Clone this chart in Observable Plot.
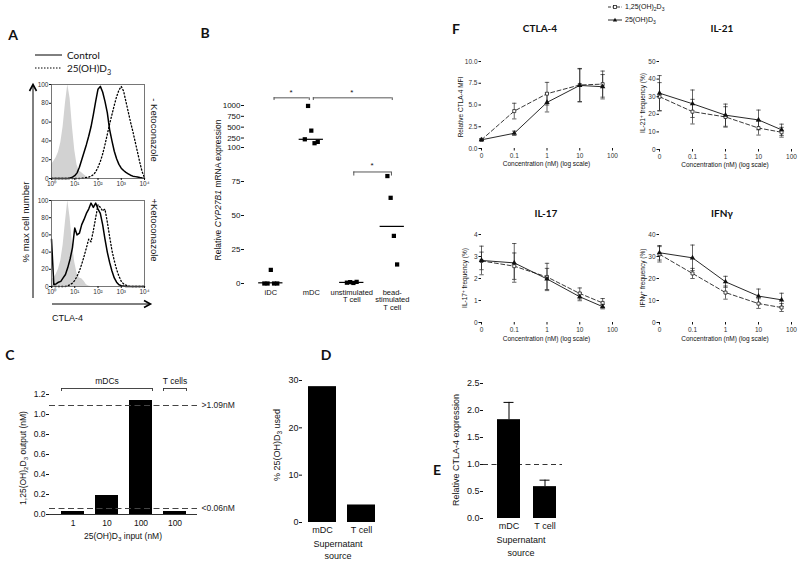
<!DOCTYPE html>
<html><head><meta charset="utf-8">
<script src="https://cdn.jsdelivr.net/npm/d3@7"></script>
<script src="https://cdn.jsdelivr.net/npm/@observablehq/plot@0.6"></script>
<style>
body{margin:0;background:#fff;}
#fig{position:relative;width:800px;height:563px;overflow:hidden;background:#fff;color:#111;}
</style></head><body><div id="fig"></div>
<script>
// ---------------- DATA ----------------
// Panel A: histograms, x = log10(CTLA-4 intensity), y = % max cell number
const histExp = [0,0.1,0.2,0.3,0.4,0.5,0.6,0.7,0.8,0.9,1,1.1,1.2,1.3,1.4,1.5,1.6,1.7,1.8,1.9,2,2.1,2.2,2.3,2.4,2.5,2.6,2.7,2.8,2.9,3,3.1,3.2,3.3,3.4,3.5,3.6,3.7,3.8,3.9,4];
const isoTop  = [15,18,22,28,38,55,80,100,85,55,30,14,8,6,4,2,0.5,0,0,0,0,0,0,0,0,0,0,0,0,0,0,0,0,0,0,0,0,0,0,0,0];
const ctrlTop = [0,0,0,0,0,0,0,0,0.5,1.5,3,6,12,20,28,36,45,55,68,82,95,98,92,82,70,52,40,29,21,15,11,8.5,6.5,5,3.5,2.5,2,1.5,1,0.6,0.3];
const vitTop  = [0,0,0,0,0,0,0,0,0,0,0,0,0,0.3,0.6,1,1.5,2.5,4,7,12,18,26,36,47,58,68,78,87,94,98,93,82,71,60,50,39,28,17,7,1];
const isoBot  = [8,10,14,20,30,48,75,100,80,50,28,15,10,9,6,2,0.5,0,0,0,0,0,0,0,0,0,0,0,0,0,0,0,0,0,0,0,0,0,0,0,0];
const ctrlBot = [55,2,3,5,6,10,14,22,32,45,68,60,62,72,78,85,90,97,92,97,90,85,72,55,40,28,18,10,5,2,1,0.5,0,0,0,0,0,0,0,0,0];
const vitBot  = [0,0,0,0,0,0,0,1,2,4,7,12,18,26,35,45,55,52,65,80,95,92,88,90,75,58,42,30,20,12,6,3,1.5,0.5,0,0,0,0,0,0,0];
const histTicksY = [0,20,40,60,80,100];
const histTicksX = [0,1,2,3,4];

// Panel B: CYP27B1 expression
const bCategories = ["iDC","mDC","unstimulated\nT cell","bead-\nstimulated\nT cell"];
const bIDC    = [0,0,10,0,0];
const bMDC    = [220,990,420,130,160];
const bUnstim = [0.6,1.0,0.4,1.2];
const bBead   = [79,63,35,14];
const bCenter = [0.5,220,0.8,42];
const bTicksLow = [0,25,50,75,100];
const bTicksHigh = [250,500,750,1000];

// Panel C: 1,25(OH)2D3 output
const cLabels = ["1","10","100","100"];
const cValues = [0.03,0.19,1.14,0.03];
const cLimits = [1.09,0.06];
const cLimitLabels = [">1.09nM","<0.06nM"];
const cTicks = [0,0.2,0.4,0.6,0.8,1.0,1.2];

// Panel D
const dLabels = ["mDC","T cell"];
const dValues = [28.7,3.7];
const dTicks = [0,10,20,30];

// Panel E
const eLabels = ["mDC","T cell"];
const eValues = [1.83,0.59];
const eErrors = [0.32,0.12];
const eTicks = [0,0.5,1.0,1.5,2.0,2.5];

// Panel F: concentrations (0 = control, drawn at the "0" slot of the log axis)
const concentrations = [0,0.1,1,10,50];
const concTicks = [0,0.1,1,10,100];
const ctla4_125 = [1.0,4.3,6.3,7.3,7.4];   const ctla4_125_err = [0.1,0.9,1.3,1.9,1.5];
const ctla4_25  = [1.0,1.75,5.3,7.25,7.1]; const ctla4_25_err  = [0.1,0.25,1.1,1.9,1.4];
const il21_125  = [30,21.5,18.5,12.2,9.8]; const il21_125_err  = [8,7,5.8,4,2.8];
const il21_25   = [32,26,19.5,16.8,11.2];  const il21_25_err   = [10,7.8,6.3,5.6,3.2];
const il17_125  = [2.8,2.56,2.07,1.32,0.89]; const il17_125_err = [0.4,0.6,0.62,0.25,0.2];
const il17_25   = [2.82,2.71,1.98,1.17,0.72]; const il17_25_err = [0.65,0.88,0.48,0.18,0.1];
const ifng_125  = [31,22.3,13.6,8.6,6.8];  const ifng_125_err  = [3.5,2.3,3,2.2,1.8];
const ifng_25   = [31.7,29.4,18.5,12,10.3]; const ifng_25_err  = [3.3,5.8,2.5,3.2,3];

// ---------------- HELPERS ----------------
const fig = document.getElementById("fig");
const FONT = '"Liberation Sans", Arial, sans-serif';
const BOLD = 'Lato, "Open Sans", sans-serif';
const SUB = s => `<span style="font-size:72%;position:relative;top:0.35em">${s}</span>`;
const SUP = s => `<span style="font-size:72%;position:relative;top:-0.45em">${s}</span>`;
const SUPCH = ["\u2070","\u00b9","\u00b2","\u00b3","\u2074"];

function addText(html, x, y, o = {}) {
  const d = document.createElement("div");
  d.innerHTML = html;
  Object.assign(d.style, {position:"absolute", left:x+"px", top:y+"px", whiteSpace:"nowrap",
    fontFamily:o.font||FONT, fontSize:(o.size||8)+"px", lineHeight:"1", color:o.color||"#111",
    fontWeight:o.bold?"bold":"normal", fontStyle:"normal"});
  const ax = o.anchor === "start" ? "0" : o.anchor === "end" ? "-100%" : "-50%";
  d.style.transform = `translate(${ax},-50%)` + (o.rotate ? ` rotate(${o.rotate}deg)` : "");
  fig.appendChild(d);
}

function mkPlot(frame, margin, opts) {
  const [x0,y0,x1,y1] = frame;
  const m = Object.assign({top:10,right:10,bottom:20,left:30}, margin);
  const p = Plot.plot({
    width: x1-x0+m.left+m.right, height: y1-y0+m.top+m.bottom,
    marginLeft:m.left, marginRight:m.right, marginTop:m.top, marginBottom:m.bottom,
    style:{fontFamily:FONT, fontSize:"8px", background:"transparent", overflow:"visible", color:"#111"},
    ...opts
  });
  Object.assign(p.style, {position:"absolute", left:(x0-m.left)+"px", top:(y0-m.top)+"px"});
  fig.appendChild(p);
  return p;
}

// ---------------- PANEL A ----------------
function hist(frame, iso, ctrl, vit) {
  const rows = arr => histExp.map((e,i) => ({e, v:arr[i]}));
  mkPlot(frame, {left:18, right:4, top:4, bottom:14}, {
    x:{domain:[0,4]}, y:{domain:[0,100]},
    marks:[
      Plot.areaY(rows(iso), {x:"e", y:"v", fill:"#d2d2d2"}),
      Plot.lineY(rows(ctrl), {x:"e", y:"v", stroke:"#000", strokeWidth:1.5}),
      Plot.lineY(rows(vit), {x:"e", y:"v", stroke:"#000", strokeWidth:1.3, strokeDasharray:"1.2,2.2"}),
      Plot.frame({stroke:"#555", strokeWidth:0.8}),
      Plot.axisY({ticks:histTicksY, tickSize:2, tickPadding:1, fontSize:6.5, label:null, fill:"#333"}),
      Plot.axisX({ticks:histTicksX, tickFormat:d => "10"+SUPCH[d], tickSize:2, tickPadding:1, fontSize:6.5, label:null, fill:"#333"})
    ]
  });
}
hist([51,84,144,178], isoTop, ctrlTop, vitTop);
hist([51,200,144,286], isoBot, ctrlBot, vitBot);

addText("A", 13, 35, {font:BOLD, bold:true, size:14});
addText("Control", 67, 55, {font:BOLD, size:10, anchor:"start"});
addText("25(OH)D"+SUB("3"), 67, 68, {font:BOLD, size:10, anchor:"start"});
addText("% max cell number", 26, 222, {size:9.5, rotate:-90});
addText("CTLA-4", 52, 318, {size:9, anchor:"start"});
addText("- Ketoconazole", 154, 130, {size:9.5, rotate:90});
addText("+Ketoconazole", 154, 230, {size:9.5, rotate:90});

// ---------------- PANEL B ----------------
const bGroups = [bIDC, bMDC, bUnstim, bBead];
const bRows = [];
bGroups.forEach((arr, ci) => arr.forEach((v, j) => bRows.push({x: ci + (j - (arr.length-1)/2) * 0.08, v})));
const bCenters = bCenter.map((v, i) => ({i, v}));
const bX = {domain:[-0.65,3.5]};
// upper segment (broken axis)
mkPlot([244,105,412,144], {left:26, right:4, top:20, bottom:2}, {
  x:bX, y:{domain:[100,1000]},
  marks:[
    Plot.dot(bRows.filter(d => d.v > 100), {x:"x", y:"v", symbol:"square", fill:"#000", r:2.4}),
    Plot.ruleY(bCenters.filter(d => d.v > 100), {y:"v", x1:d => d.i-0.3, x2:d => d.i+0.3, stroke:"#000", strokeWidth:1.2}),
    Plot.ruleY([{a:0.08, b:0.95, y:1177}, {a:1.05, b:3, y:1177}], {y:"y", x1:"a", x2:"b", stroke:"#444", strokeWidth:0.9}),
    Plot.ruleX([0.08,0.95,1.05,3], {x:d => d, y1:1115, y2:1177, stroke:"#444", strokeWidth:0.9}),
    Plot.text([0.5,2], {x:d => d, y:1310, text:() => "*", fontSize:8, fill:"#111"}),
    Plot.axisY({ticks:bTicksHigh, tickFormat:"d", tickSize:3, tickPadding:1, fontSize:8, line:true, label:null, fill:"#111"}),
    Plot.axisX({ticks:[], label:null, tickSize:0})
  ]
});
// lower segment
mkPlot([244,147,412,283], {left:26, right:4, top:4, bottom:34}, {
  x:bX, y:{domain:[0,100]},
  marks:[
    Plot.ruleY(bCenters.filter(d => d.v <= 100), {y:"v", x1:d => d.i-0.3, x2:d => d.i+0.3, stroke:"#000", strokeWidth:1.2}),
    Plot.dot(bRows.filter(d => d.v <= 100), {x:"x", y:"v", symbol:"square", fill:"#000", r:2.4}),
    Plot.ruleY([{a:2.05, b:2.98, y:82}], {y:"y", x1:"a", x2:"b", stroke:"#444", strokeWidth:0.9}),
    Plot.ruleX([2.05,2.98], {x:d => d, y1:79, y2:82, stroke:"#444", strokeWidth:0.9}),
    Plot.text([2.5], {x:d => d, y:87, text:() => "*", fontSize:8, fill:"#111"}),
    Plot.axisY({ticks:bTicksLow, tickFormat:"d", tickSize:3, tickPadding:1, fontSize:8, line:true, label:null, fill:"#111"}),
    Plot.axisX({ticks:[0,1,2,3], tickFormat:i => bCategories[i], tickSize:0, tickPadding:6, fontSize:7.5, line:true, label:null, fill:"#111"})
  ]
});
addText("B", 205, 33, {font:BOLD, bold:true, size:14});
addText("Relative <i>CYP27B1</i> mRNA expression", 218, 190, {size:8.5, rotate:-90});

// ---------------- PANEL C ----------------
const cRows = cValues.map((v, i) => ({i, v}));
const cBw = 23;
mkPlot([49,394,197,514], {left:24, right:40, top:30, bottom:14}, {
  x:{type:"band", domain:[0,1,2,3], paddingInner:0.33, paddingOuter:0.32},
  y:{domain:[0,1.2]},
  marks:[
    Plot.barY(cRows, {x:"i", y:"v", fill:"#000"}),
    Plot.ruleY(cLimits, {stroke:"#444", strokeWidth:1.2, strokeDasharray:"6,3.5"}),
    Plot.text(cLimits.map((v, k) => ({v, t:cLimitLabels[k]})), {y:"v", text:"t", frameAnchor:"right", textAnchor:"start", dx:4, fontSize:8.5, fill:"#222"}),
    Plot.ruleY([{a:0, b:2, y:1.26}, {a:3, b:3, y:1.26}], {y:"y", x1:"a", x2:"b", stroke:"#333", strokeWidth:0.9}),
    Plot.ruleX([0,3], {x:d => d, y1:1.23, y2:1.26, dx:-cBw/2, stroke:"#333", strokeWidth:0.9}),
    Plot.ruleX([2,3], {x:d => d, y1:1.23, y2:1.26, dx:cBw/2, stroke:"#333", strokeWidth:0.9}),
    Plot.text([{x:1, t:"mDCs"}, {x:3, t:"T cells"}], {x:"x", y:1.33, text:"t", fontSize:8.5, fill:"#111"}),
    Plot.ruleY([0], {stroke:"#333"}),
    Plot.axisY({ticks:cTicks, tickFormat:".1f", tickSize:3, tickPadding:1, fontSize:8.5, line:true, label:null, fill:"#111"}),
    Plot.axisX({tickFormat:i => cLabels[i], tickSize:0, tickPadding:5, fontSize:8.5, label:null, fill:"#111"})
  ]
});
addText("C", 10, 355, {font:BOLD, bold:true, size:14});
addText("1,25(OH)"+SUB("2")+"D"+SUB("3")+" output (nM)", 23, 458, {size:8.5, rotate:-90});
addText("25(OH)D"+SUB("3")+" input (nM)", 123, 536, {size:8.5});

// ---------------- PANEL D ----------------
mkPlot([302,380,387,522], {left:20, right:4, top:6, bottom:14}, {
  x:{type:"band", domain:dLabels, paddingInner:0.29, paddingOuter:0.22, align:0.35},
  y:{domain:[0,30]},
  marks:[
    Plot.barY(dLabels.map((k, i) => ({k, v:dValues[i]})), {x:"k", y:"v", fill:"#000"}),
    Plot.axisY({ticks:dTicks, tickSize:3, tickPadding:1, fontSize:9, line:true, label:null, fill:"#111"}),
    Plot.axisX({tickSize:0, tickPadding:4, fontSize:9, line:true, label:null, fill:"#111"})
  ]
});
addText("D", 326, 355, {font:BOLD, bold:true, size:14});
addText("% 25(OH)D"+SUB("3")+" used", 277, 445, {size:9, rotate:-90});
addText("Supernatant", 338, 544, {size:9});
addText("source", 338, 556, {size:9});

// ---------------- PANEL E ----------------
const eRows = eLabels.map((k, i) => ({k, v:eValues[i], e:eErrors[i]}));
mkPlot([483,383,562,518], {left:22, right:6, top:6, bottom:14}, {
  x:{type:"band", domain:eLabels, paddingInner:0.36, paddingOuter:0.26, align:0.7},
  y:{domain:[0,2.5]},
  marks:[
    Plot.ruleY([1], {stroke:"#333", strokeWidth:1.1, strokeDasharray:"5,3.5"}),
    Plot.barY(eRows, {x:"k", y:"v", fill:"#000"}),
    Plot.ruleX(eRows, {x:"k", y1:"v", y2:d => d.v+d.e, stroke:"#000", strokeWidth:1}),
    Plot.tickY(eRows, {x:"k", y:d => d.v+d.e, insetLeft:6.5, insetRight:6.5, stroke:"#000", strokeWidth:1}),
    Plot.axisY({ticks:eTicks, tickFormat:".1f", tickSize:3, tickPadding:1, fontSize:9, line:true, label:null, fill:"#111"}),
    Plot.axisX({tickSize:0, tickPadding:4, fontSize:9, line:true, label:null, fill:"#111"})
  ]
});
addText("E", 437, 470, {font:BOLD, bold:true, size:14});
addText("Relative CTLA-4 expression", 456, 450, {size:9, rotate:-90});
addText("Supernatant", 521, 540, {size:9});
addText("source", 521, 553, {size:9});

// ---------------- PANEL F ----------------
const capSymbol = {draw(ctx, size) { const r = Math.sqrt(size/Math.PI); ctx.moveTo(-r,0); ctx.lineTo(r,0); }};
const xPos = c => c === 0 ? 0.01 : c;
function errMarks(rows) {
  return [
    Plot.ruleX(rows, {x:"c", y1:d => d.m-d.e, y2:d => d.m+d.e, stroke:"#222", strokeWidth:0.7}),
    Plot.dot(rows, {x:"c", y:d => d.m+d.e, symbol:capSymbol, r:2.2, stroke:"#222", strokeWidth:0.7, fill:"none"}),
    Plot.dot(rows, {x:"c", y:d => d.m-d.e, symbol:capSymbol, r:2.2, stroke:"#222", strokeWidth:0.7, fill:"none"})
  ];
}
function fPanel(frame, yDomain, yTicks, yFmt, m125, e125, m25, e25) {
  const rA = concentrations.map((c, i) => ({c:xPos(c), m:m125[i], e:e125[i]}));
  const rB = concentrations.map((c, i) => ({c:xPos(c), m:m25[i], e:e25[i]}));
  mkPlot(frame, {left:20, right:8, top:4, bottom:12}, {
    x:{type:"log", domain:[0.01,100]}, y:{domain:yDomain},
    marks:[
      Plot.line(rA, {x:"c", y:"m", stroke:"#222", strokeWidth:0.9, strokeDasharray:"4,2.5"}),
      Plot.line(rB, {x:"c", y:"m", stroke:"#111", strokeWidth:0.9}),
      ...errMarks(rA), ...errMarks(rB),
      Plot.dot(rA, {x:"c", y:"m", symbol:"square", r:1.7, fill:"#fff", stroke:"#222", strokeWidth:0.8}),
      Plot.dot(rB, {x:"c", y:"m", symbol:"triangle", r:2, fill:"#111"}),
      Plot.axisY({ticks:yTicks, tickFormat:yFmt, tickSize:2.5, tickPadding:1.5, fontSize:6.5, line:true, label:null, fill:"#333"}),
      Plot.axisX({ticks:concTicks.map(xPos), tickFormat:d => d === 0.01 ? "0" : String(d), tickSize:2.5, tickPadding:2, fontSize:6.5, line:true, label:null, fill:"#333"})
    ]
  });
}
fPanel([481,61,612,148], [0,10], [0,2.5,5,7.5,10], ".1f", ctla4_125, ctla4_125_err, ctla4_25, ctla4_25_err);
fPanel([659,61,791,149], [0,50], [0,10,20,30,40,50], "d", il21_125, il21_125_err, il21_25, il21_25_err);
fPanel([481,234,612,322], [0,4], [0,1,2,3,4], "d", il17_125, il17_125_err, il17_25, il17_25_err);
fPanel([659,234,791,322], [0,40], [0,10,20,30,40], "d", ifng_125, ifng_125_err, ifng_25, ifng_25_err);

addText("F", 456, 29, {font:BOLD, bold:true, size:14});
addText("CTLA-4", 540, 28, {font:BOLD, bold:true, size:10});
addText("IL-21", 722, 28, {font:BOLD, bold:true, size:10});
addText("IL-17", 546, 213, {font:BOLD, bold:true, size:10});
addText("IFN\u03b3", 722, 213, {font:BOLD, bold:true, size:10});
addText("Relative CTLA-4 MFI", 461, 107, {size:6.5, rotate:-90});
addText("IL-21"+SUP("+")+" frequency (%)", 643, 103, {size:6.5, rotate:-90});
addText("IL-17"+SUP("+")+" frequency (%)", 465, 278, {size:6.5, rotate:-90});
addText("IFN\u03b3"+SUP("+")+" frequency (%)", 643, 278, {size:6.5, rotate:-90});
["546.5,164","725,165","546.5,339","725,339"].forEach(s => {
  const [x, y] = s.split(",").map(Number);
  addText("Concentration (nM) (log scale)", x, y, {size:6.5});
});
addText("1,25(OH)"+SUB("2")+"D"+SUB("3"), 625, 7, {size:7, anchor:"start"});
addText("25(OH)D"+SUB("3"), 625, 20, {size:7, anchor:"start"});

// ---------------- OVERLAY (arrows, legend keys) ----------------
const ov = d3.select(fig).append("svg").attr("width",800).attr("height",563)
  .style("position","absolute").style("left","0").style("top","0").style("pointer-events","none");
ov.append("line").attr("x1",35).attr("x2",62).attr("y1",55).attr("y2",55).attr("stroke","#000").attr("stroke-width",1);
ov.append("line").attr("x1",35).attr("x2",62).attr("y1",68).attr("y2",68).attr("stroke","#000").attr("stroke-width",1).attr("stroke-dasharray","1.5,1.5");
ov.append("line").attr("x1",33).attr("x2",33).attr("y1",298).attr("y2",85).attr("stroke","#000").attr("stroke-width",1);
ov.append("path").attr("d","M29.5,91 L33,84.5 L36.5,91").attr("fill","none").attr("stroke","#000").attr("stroke-width",1.6);
ov.append("line").attr("x1",52).attr("x2",150).attr("y1",304).attr("y2",304).attr("stroke","#000").attr("stroke-width",1);
ov.append("path").attr("d","M144,300.5 L150.5,304 L144,307.5").attr("fill","none").attr("stroke","#000").attr("stroke-width",1.6);
ov.append("line").attr("x1",608).attr("x2",622).attr("y1",7).attr("y2",7).attr("stroke","#222").attr("stroke-width",0.9).attr("stroke-dasharray","3,1.5");
ov.append("rect").attr("x",613.5).attr("y",5.5).attr("width",3).attr("height",3).attr("fill","#fff").attr("stroke","#222").attr("stroke-width",0.8);
ov.append("line").attr("x1",608).attr("x2",622).attr("y1",20).attr("y2",20).attr("stroke","#111").attr("stroke-width",0.9);
ov.append("path").attr("d","M615,17.8 L617.2,21.5 L612.8,21.5 Z").attr("fill","#111");
</script></body></html>
